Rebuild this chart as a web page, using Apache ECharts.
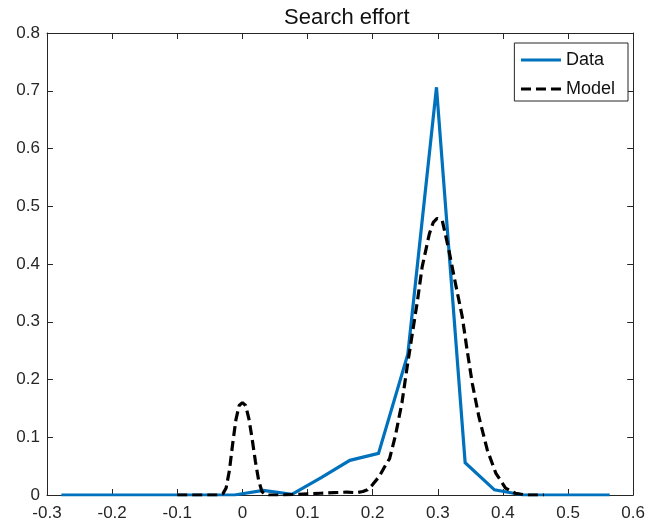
<!DOCTYPE html>
<html>
<head>
<meta charset="utf-8">
<script src="https://cdn.jsdelivr.net/npm/echarts@6/dist/echarts.min.js"></script>
<style>
  html, body { margin: 0; padding: 0; background: #fff; }
  #chart { width: 648px; height: 527px; }
</style>
</head>
<body>
<div id="chart"></div>
<script>
// Empirical distribution of search effort (binned)
const dataX = [-0.278, -0.234, -0.189, -0.145, -0.101, -0.057, -0.012, 0.032, 0.076, 0.121,
               0.165, 0.209, 0.254, 0.298, 0.342, 0.387, 0.431, 0.475, 0.519, 0.564];
const dataY = [0, 0, 0, 0, 0, 0, 0, 0.008, 0.001, 0.03,
               0.06, 0.072, 0.244, 0.706, 0.056, 0.009, 0, 0, 0, 0];

// Model-implied density
const modelX = [-0.1, -0.06, -0.035, -0.03, -0.025, -0.02, -0.015, -0.01, -0.005, 0,
                0.005, 0.01, 0.015, 0.02, 0.025, 0.03, 0.035, 0.04, 0.06, 0.08,
                0.1, 0.12, 0.14, 0.16, 0.175, 0.185, 0.192, 0.2, 0.21, 0.22,
                0.226, 0.235, 0.245, 0.253, 0.261, 0.269, 0.276, 0.287, 0.293, 0.299,
                0.307, 0.317, 0.327, 0.3375, 0.345, 0.353, 0.363, 0.376, 0.389, 0.404,
                0.419, 0.435, 0.463];
const modelY = [0, 0, 0, 0.002, 0.012, 0.042, 0.088, 0.13, 0.155, 0.16,
                0.155, 0.132, 0.097, 0.058, 0.025, 0.006, 0.001, 0, 0, 0.001,
                0.002, 0.003, 0.004, 0.005, 0.004, 0.006, 0.009, 0.018, 0.032, 0.052,
                0.063, 0.103, 0.16, 0.222, 0.28, 0.338, 0.395, 0.452, 0.472, 0.479,
                0.475, 0.424, 0.367, 0.309, 0.251, 0.193, 0.136, 0.078, 0.038, 0.012,
                0.003, 0, 0];

const xTicks = { min: -0.3, max: 0.6, step: 0.1 };
const yTicks = { min: 0, max: 0.8, step: 0.1 };

const seriesNames = ['Data', 'Model'];
const titleText = 'Search effort';

const ink = '#262626';
const font = 'Liberation Sans, Arial, Helvetica, sans-serif';
const fmt = v => { const r = Math.round(v * 10) / 10; return r === 0 ? '0' : String(r); };

const pairs = (xs, ys) => xs.map((x, i) => [x, ys[i]]);

const tickStyle = { show: true, inside: true, length: 6, lineStyle: { color: ink, width: 1 } };
const lineStyleAxis = { show: true, onZero: false, lineStyle: { color: ink, width: 1 } };

const chart = echarts.init(document.getElementById('chart'), null, { renderer: 'canvas' });
chart.setOption({
  animation: false,
  backgroundColor: '#fff',
  title: {
    // centred over the plotting area rather than the whole canvas
    text: titleText, left: 279, top: 2,
    textStyle: { fontFamily: font, fontSize: 22, fontWeight: 'normal', color: '#111' }
  },
  legend: {
    data: seriesNames,
    orient: 'vertical',
    right: 20, top: 43,
    itemWidth: 40, itemHeight: 14, itemGap: 11,
    padding: [8, 13, 3, 5],
    borderColor: ink, borderWidth: 1, backgroundColor: '#fff',
    itemStyle: { opacity: 0 },
    lineStyle: { width: 3.2 },
    textStyle: { fontFamily: font, fontSize: 18, color: '#111' }
  },
  grid: { left: 47, right: 13, top: 33, bottom: 32, containLabel: false },
  xAxis: [{
    type: 'value', min: xTicks.min, max: xTicks.max, interval: xTicks.step,
    axisLine: lineStyleAxis, axisTick: tickStyle,
    axisLabel: { formatter: fmt, color: ink, fontFamily: font, fontSize: 17, margin: 10 },
    splitLine: { show: false }
  }, {
    type: 'value', position: 'top', min: xTicks.min, max: xTicks.max, interval: xTicks.step,
    axisLine: lineStyleAxis, axisTick: tickStyle, axisLabel: { show: false }, splitLine: { show: false }
  }],
  yAxis: [{
    type: 'value', min: yTicks.min, max: yTicks.max, interval: yTicks.step,
    axisLine: lineStyleAxis, axisTick: tickStyle,
    axisLabel: { formatter: fmt, color: ink, fontFamily: font, fontSize: 17, margin: 7 },
    splitLine: { show: false }
  }, {
    type: 'value', position: 'right', min: yTicks.min, max: yTicks.max, interval: yTicks.step,
    axisLine: lineStyleAxis, axisTick: tickStyle, axisLabel: { show: false }, splitLine: { show: false }
  }],
  series: [{
    name: seriesNames[0], type: 'line', xAxisIndex: 0, yAxisIndex: 0,
    data: pairs(dataX, dataY), symbol: 'none',
    lineStyle: { color: '#0072BD', width: 3.2, join: 'miter' },
    itemStyle: { color: '#0072BD' }, z: 2
  }, {
    name: seriesNames[1], type: 'line', xAxisIndex: 0, yAxisIndex: 0,
    data: pairs(modelX, modelY), symbol: 'none',
    lineStyle: { color: '#000', width: 3.2, type: [10, 5] },
    itemStyle: { color: '#000' }, z: 3
  }]
});
</script>
</body>
</html>
